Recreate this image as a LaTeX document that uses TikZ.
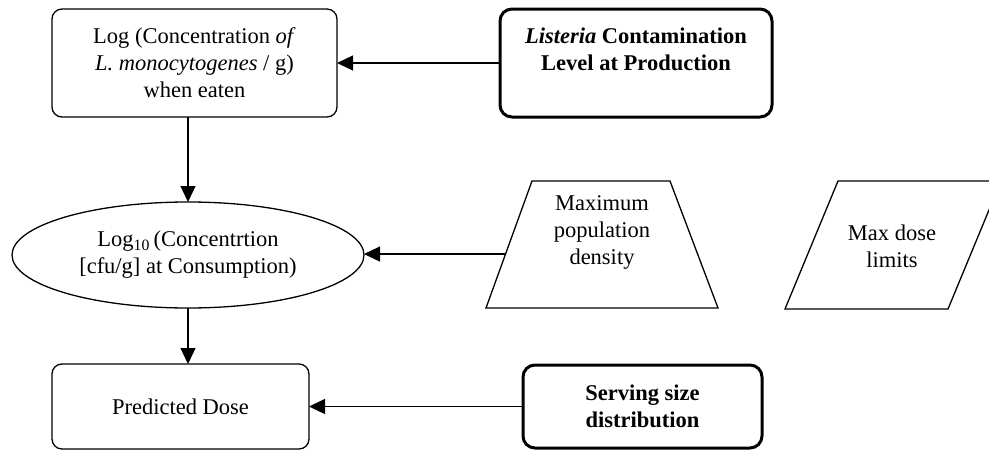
\documentclass[tikz,border=0pt]{standalone}
\usepackage{fontspec}
\setmainfont{Liberation Serif}
\usetikzlibrary{arrows.meta,calc,shapes.geometric}
\newcommand{\figfont}{\fontsize{22.5}{27}\selectfont}
\begin{document}
\begin{tikzpicture}[x=1pt,y=-1pt,
  thinbox/.style={draw, line width=1.3pt, rounded corners=10pt, align=center, inner sep=0pt, outer sep=0pt, font=\figfont},
  thickbox/.style={draw, line width=3pt, rounded corners=12pt, align=center, inner sep=0pt, outer sep=0pt, font=\figfont\bfseries},
  ovalbox/.style={draw, ellipse, line width=1.3pt, align=center, inner sep=0pt, outer sep=0pt, font=\figfont},
  plaintext/.style={align=center, inner sep=0pt, font=\figfont},
  slantline/.style={line width=1.3pt, line join=miter},
  arr/.style={-{Triangle[length=16pt,width=15pt]}, line width=1.3pt}
]
\useasboundingbox (0,0) rectangle (989,450);

\node[thinbox, minimum width=285pt, minimum height=108pt] (A) at (194.5,63)
  {Log (Concentration \textit{of}\\\textit{L. monocytogenes} / g)\\when eaten};
\node[thickbox, minimum width=272pt, minimum height=108pt] (B) at (636,63)
  {\textit{Listeria} Contamination\\Level at Production\\~};
\node[ovalbox, minimum width=352pt, minimum height=106pt] (C) at (188,255)
  {Log\textsubscript{10}\,(Concentrtion\\{}[cfu/g] at Consumption)};

% trapezoid: Maximum population density
\coordinate (Ebl) at (486,308);
\coordinate (Etl) at (532,181);
\coordinate (Etr) at (670,181);
\coordinate (Ebr) at (718,308);
\draw[slantline] (Ebl) -- (Etl) -- (Etr) -- (Ebr) -- cycle;
\node[plaintext] (E) at (602,232.5) {Maximum\\population\\density};
\coordinate (Ein) at ($(Ebl)!0.425!(Etl)$);

% parallelogram: Max dose limits
\coordinate (Fbl) at (785,309);
\coordinate (Ftl) at (838,181);
\coordinate (Ftr) at (1001,181);
\coordinate (Fbr) at (948,309);
\draw[slantline] (Fbl) -- (Ftl) -- (Ftr) -- (Fbr) -- cycle;
\node[plaintext] (F) at (892,246) {Max dose\\limits};

\node[thinbox, minimum width=257pt, minimum height=85pt] (D) at (180.5,406.5)
  {Predicted Dose};
\node[thickbox, minimum width=239pt, minimum height=83pt] (G) at (642.5,406.5)
  {Serving size\\distribution};

\draw[arr] (B.west) -- (A.east);
\draw[arr] (A.south -| C.north) -- (C.north);
\draw[arr] (Ein) -- (Ein -| C.east);
\draw[arr] (C.south) -- (C.south |- D.north);
\draw[arr] (G.west) -- (G.west -| D.east);
\end{tikzpicture}
\end{document}
